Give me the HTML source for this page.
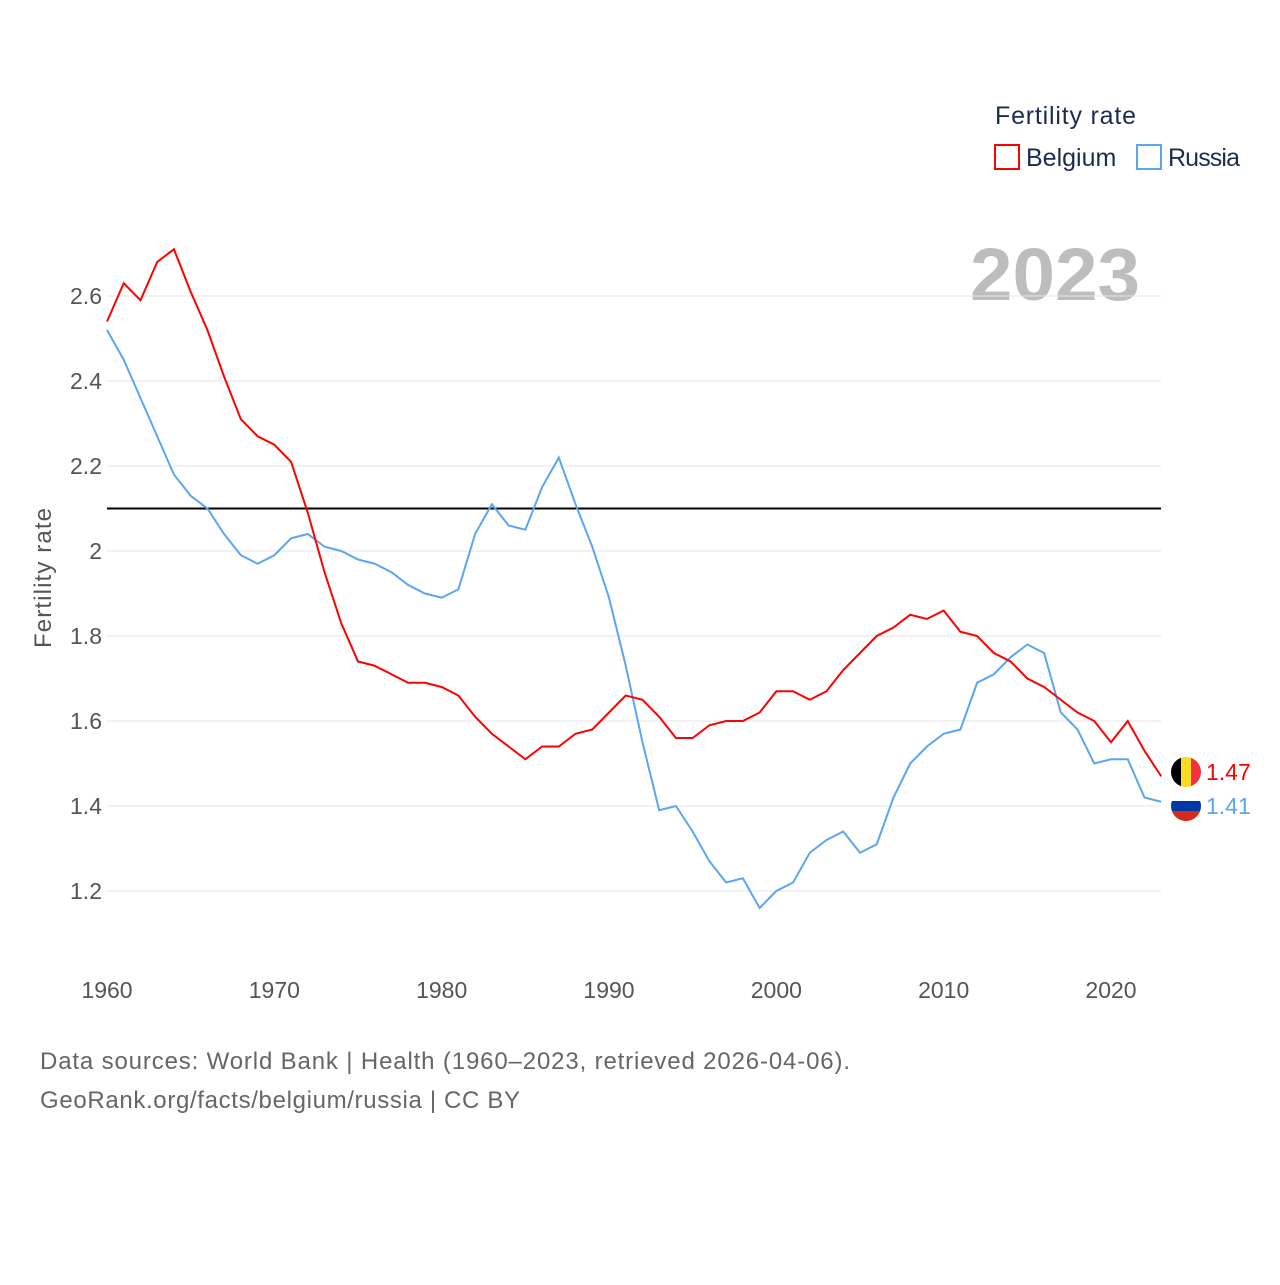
<!DOCTYPE html>
<html><head><meta charset="utf-8"><style>
body{margin:0;background:#fff;width:1280px;height:1280px;overflow:hidden;font-family:"Liberation Sans",sans-serif}
</style></head><body>
<svg id="chart" width="1280" height="1280" xmlns="http://www.w3.org/2000/svg">
<text x="995" y="124" font-size="25" fill="#1d2b4f" textLength="141">Fertility rate</text>
<g><rect x="995" y="145" width="24" height="24" fill="none" stroke="#ff0000" stroke-width="2"/><text x="1026" y="166" font-size="25" fill="#1d2b4f">Belgium</text></g>
<g><rect x="1137" y="145" width="24" height="24" fill="none" stroke="#5ba6f0" stroke-width="2"/><text x="1168" y="166" font-size="25" fill="#1d2b4f" textLength="72">Russia</text></g>
<text x="970" y="300" font-size="74" font-weight="bold" fill="#bdbdbd" textLength="170" lengthAdjust="spacingAndGlyphs">2023</text>
<g id="grid"></g><g id="yticks"></g><g id="xticks"></g><g id="series"></g>
<text transform="translate(51,578) rotate(-90)" font-size="24" fill="#555" text-anchor="middle" textLength="140">Fertility rate</text>
<text x="40" y="1069" font-size="24" fill="#666" textLength="810">Data sources: World Bank | Health (1960–2023, retrieved 2026-04-06).</text>
<text x="40" y="1108" font-size="24" fill="#666" textLength="480">GeoRank.org/facts/belgium/russia | CC BY</text>
</svg>
<script>
const years=[];for(let y=1960;y<=2023;y++)years.push(y);
const belgium=[2.54,2.63,2.59,2.68,2.71,2.61,2.52,2.41,2.31,2.27,2.25,2.21,2.09,1.95,1.83,1.74,1.73,1.71,1.69,1.69,1.68,1.66,1.61,1.57,1.54,1.51,1.54,1.54,1.57,1.58,1.62,1.66,1.65,1.61,1.56,1.56,1.59,1.60,1.60,1.62,1.67,1.67,1.65,1.67,1.72,1.76,1.80,1.82,1.85,1.84,1.86,1.81,1.80,1.76,1.74,1.70,1.68,1.65,1.62,1.60,1.55,1.60,1.53,1.47];
const russia=[2.52,2.45,2.36,2.27,2.18,2.13,2.10,2.04,1.99,1.97,1.99,2.03,2.04,2.01,2.00,1.98,1.97,1.95,1.92,1.90,1.89,1.91,2.04,2.11,2.06,2.05,2.15,2.22,2.11,2.01,1.89,1.73,1.55,1.39,1.40,1.34,1.27,1.22,1.23,1.16,1.20,1.22,1.29,1.32,1.34,1.29,1.31,1.42,1.50,1.54,1.57,1.58,1.69,1.71,1.75,1.78,1.76,1.62,1.58,1.50,1.51,1.51,1.42,1.41];
const yTicks=[1.2,1.4,1.6,1.8,2,2.2,2.4,2.6];
const xTicks=[1960,1970,1980,1990,2000,2010,2020];
const replacement=2.1;
const X=y=>107+(y-1960)*(1004/60);
const Y=v=>296+(2.6-v)*425;
const NS="http://www.w3.org/2000/svg";
function mk(t,a,p){const e=document.createElementNS(NS,t);for(const k in a)e.setAttribute(k,a[k]);p.appendChild(e);return e;}
const grid=document.getElementById('grid'),yt=document.getElementById('yticks'),xt=document.getElementById('xticks'),se=document.getElementById('series');
yTicks.forEach(v=>{
 const l=mk('line',{x1:107,x2:1161,y1:Y(v),y2:Y(v),stroke:'#e6e6e6','stroke-width':1},grid);
 
 
 const t=mk('text',{x:102,y:Y(v)+8,'font-size':23,fill:'#555','text-anchor':'end'},yt);t.textContent=String(v);
 
 
});
xTicks.forEach(v=>{
 const t=mk('text',{x:X(v),y:998,'font-size':23,fill:'#555','text-anchor':'middle'},xt);t.textContent=String(v);
 
 
});
const rl=mk('line',{x1:107,x2:1161,y1:Y(replacement),y2:Y(replacement),stroke:'#000','stroke-width':2},se);


function line(d,c,name){
 const p=mk('polyline',{points:d.map((v,i)=>X(years[i])+','+Y(v)).join(' '),fill:'none',stroke:c,'stroke-width':2},se);
 
 
}
line(russia,'#5ba6f0','russia-line');line(belgium,'#ff0000','belgium-line');
const bl=belgium[belgium.length-1],rlv=russia[russia.length-1];
let by=Y(bl),ry=Y(rlv);if(ry-by<34){const m=(by+ry)/2;by=m-17;ry=m+17;}
const g1=mk('g',{},se);


const cp1=mk('clipPath',{id:'c1'},g1);mk('circle',{cx:1186,cy:by,r:15},cp1);
const fg1=mk('g',{'clip-path':'url(#c1)'},g1);
mk('rect',{x:1171,y:by-15,width:10,height:30,fill:'#000'},fg1);mk('rect',{x:1181,y:by-15,width:10,height:30,fill:'#fdda24'},fg1);mk('rect',{x:1191,y:by-15,width:10,height:30,fill:'#ef3340'},fg1);
const t1=mk('text',{x:1206,y:by+8,'font-size':23,fill:'#ff0000'},se);t1.textContent=bl.toFixed(2);


const g2=mk('g',{},se);


const cp=mk('clipPath',{id:'c2'},g2);mk('circle',{cx:1186,cy:ry,r:15},cp);
const fg2=mk('g',{'clip-path':'url(#c2)'},g2);
mk('rect',{x:1171,y:ry-15,width:30,height:10,fill:'#fff'},fg2);mk('rect',{x:1171,y:ry-5,width:30,height:10,fill:'#0039a6'},fg2);mk('rect',{x:1171,y:ry+5,width:30,height:10,fill:'#d52b1e'},fg2);
const t2=mk('text',{x:1206,y:ry+8,'font-size':23,fill:'#5ba6f0'},se);t2.textContent=rlv.toFixed(2);


</script>
</body></html>
